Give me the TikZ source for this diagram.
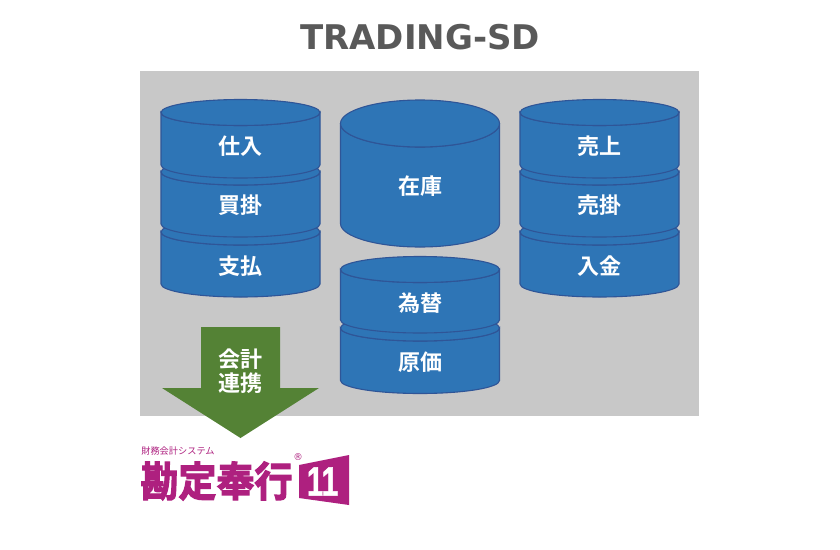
\documentclass[tikz,border=0pt]{standalone}
\usepackage{fontspec}
\setmainfont{DejaVu Sans}
\newfontfamily\cjk{Noto Sans CJK JP}[BoldFont={Noto Sans CJK JP Bold}]
\newfontfamily\logofont{Noto Sans CJK JP Bold}[FakeBold=3]
\newfontfamily\logosubfont{Noto Sans CJK JP}
\newfontfamily\lognum{Liberation Sans Bold}[FakeBold=1.5]
\definecolor{panelgray}{HTML}{C8C8C8}
\definecolor{cylblue}{HTML}{2E75B6}
\definecolor{cylline}{HTML}{2F5597}
\definecolor{arrowgreen}{HTML}{548235}
\definecolor{logopink}{HTML}{AE207F}
\definecolor{titlegray}{HTML}{595959}
\tikzset{
  cylface/.style={fill=cylblue,draw=cylline,line width=1.1pt},
  cyllabel/.style={text=white,font=\cjk\bfseries\fontsize{22}{24}\selectfont,inner sep=0pt},
  logotext/.style={text=logopink,inner sep=0pt},
}
% #1 left x, #2 top-ellipse centre y, #3 bottom-ellipse centre y, #4 ry, #5 name, #6 label, #7 label y
\newcommand{\dbcyl}[7]{
  \path[cylface] (#1,#2) -- (#1,#3) arc[start angle=180,end angle=360,x radius=79.5,y radius=-#4] -- ({#1+159},#2) arc[start angle=0,end angle=-180,x radius=79.5,y radius=-#4] -- cycle;
  \path[cylface] ({#1+79.5},#2) ellipse[x radius=79.5,y radius=#4];
  \node[cyllabel] (#5) at ({#1+79.5},#7) {#6};
}
\begin{document}
\begin{tikzpicture}[x=1pt,y=-1pt]
\useasboundingbox (0,0) rectangle (840,549);
\fill[white] (0,0) rectangle (840,549);
\node[text=titlegray,font=\bfseries\fontsize{34}{38}\selectfont,inner sep=0pt] (title) at (420,37) {TRADING-SD};
\fill[panelgray] (140,71) rectangle (699,416);
% left stack
\dbcyl{161}{232}{284}{13}{shiharai}{支払}{266}
\dbcyl{161}{172}{224}{13}{kaikake}{買掛}{205}
\dbcyl{161}{112.5}{165}{13}{shiire}{仕入}{146}
% centre
\dbcyl{340.5}{123.5}{223.5}{23.5}{zaiko}{在庫}{186}
\dbcyl{340.5}{328}{380.5}{13}{genka}{原価}{362}
\dbcyl{340.5}{269.5}{320}{13}{kawase}{為替}{303}
% right stack
\dbcyl{520}{232}{284}{13}{nyukin}{入金}{266}
\dbcyl{520}{172}{224}{13}{urikake}{売掛}{205}
\dbcyl{520}{112.5}{165}{13}{uriage}{売上}{146}
% arrow
\fill[arrowgreen] (201,327) -- (280,327) -- (280,388) -- (319,388) -- (240.5,438) -- (162,388) -- (201,388) -- cycle;
\node[cyllabel,align=center] (renkei) at (240.5,371) {\fontsize{22}{26}\selectfont 会計\\連携};
% logo
\node[logotext,font=\logosubfont\fontsize{9.2}{10}\selectfont] (logosub) at (178,451) {財務会計システム};
\node[logotext,font=\logofont\fontsize{38}{40}\selectfont,yscale=1.08] (logomain) at (216.5,481) {勘定奉行};
\node[logotext,font=\fontsize{9.5}{10}\selectfont] (logor) at (298,457.5) {®};
\fill[logopink] (299,465) -- (349,455) -- (349,505) -- (299,498) -- cycle;
\node[text=white,font=\lognum\fontsize{41}{42}\selectfont,inner sep=0pt,xscale=0.72] (logonum) at (322.5,481.5) {11};
\end{tikzpicture}
\end{document}
